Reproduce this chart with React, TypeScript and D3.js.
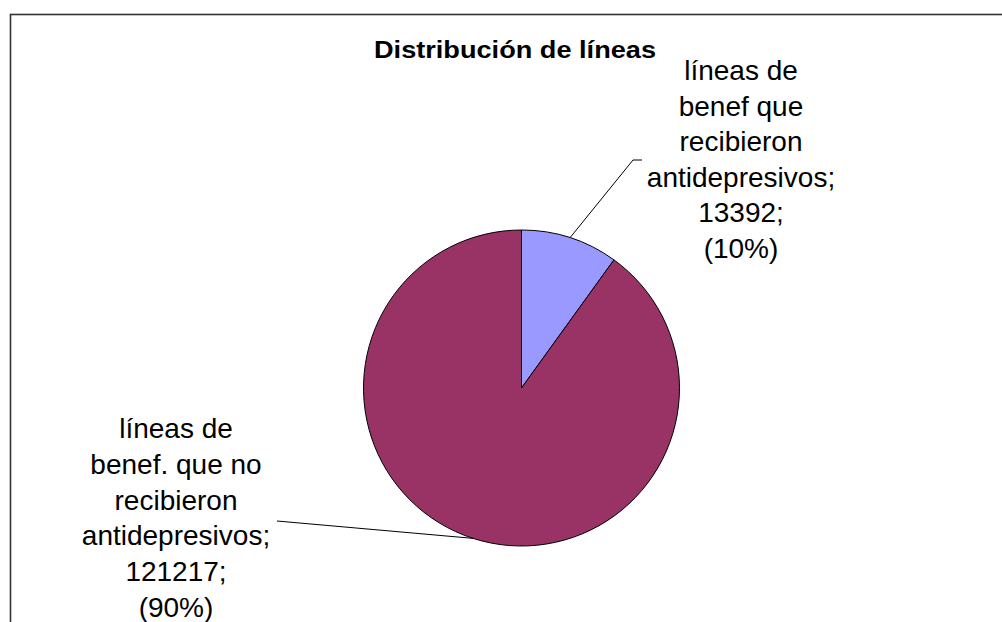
import React from "react";
import * as d3 from "d3";

const categories = [
  ["líneas de", "benef que", "recibieron", "antidepresivos;"],
  ["líneas de", "benef. que no", "recibieron", "antidepresivos;"],
];
const values = [13392, 121217];
const colors = ["#9999FF", "#993366"];
const title = "Distribución de líneas";

const W = 1002;
const H = 622;
const cx = 521.5;
const cy = 388;
const R = 158;
const FONT = "'Liberation Sans', Arial, Helvetica, sans-serif";

// label layout: anchor point where leader meets label, text center, first baseline
const labelLayout = [
  { elbow: [633, 160], end: [642, 160], tx: 741, ty: 80, lh: 35.5 },
  { elbow: null, end: [277, 521], tx: 176, ty: 438, lh: 35.8 },
];

export default function App() {
  const total = d3.sum(values);
  const pie = d3
    .pie<number>()
    .sort(null)
    .value((d) => d)
    .startAngle(0)
    .endAngle(2 * Math.PI);
  const arcs = pie(values);
  const arc = d3.arc<d3.PieArcDatum<number>>().innerRadius(0).outerRadius(R);
  const fmtPct = d3.format(".0%");

  return (
    <svg
      width={W}
      height={H}
      style={{ position: "absolute", left: 0, top: 0, background: "#fff" }}
    >
      <rect x={10.5} y={14.5} width={1100} height={800} fill="#fff" stroke="#333" strokeWidth={1.6} />
      <text
        x={374}
        y={58}
        fontFamily={FONT}
        fontWeight="bold"
        fontSize={23}
        textLength={282}
        lengthAdjust="spacingAndGlyphs"
        fill="#000"
      >
        {title}
      </text>
      <g transform={`translate(${cx},${cy})`}>
        {arcs.map((a, i) => (
          <path key={i} d={arc(a) || ""} fill={colors[i]} stroke="#000" strokeWidth={1} />
        ))}
      </g>
      {arcs.map((a, i) => {
        const mid = (a.startAngle + a.endAngle) / 2;
        const sx = cx + R * Math.sin(mid);
        const sy = cy - R * Math.cos(mid);
        const L = labelLayout[i];
        const pts: [number, number][] = [[sx, sy]];
        if (L.elbow) pts.push(L.elbow as [number, number]);
        pts.push(L.end as [number, number]);
        const line = d3.line()(pts) || "";
        const lines = [
          ...categories[i],
          `${values[i]};`,
          `(${fmtPct(values[i] / total)})`,
        ];
        return (
          <g key={i}>
            <path d={line} fill="none" stroke="#000" strokeWidth={1} />
            <text fontFamily={FONT} fontSize={28} textAnchor="middle" fill="#000">
              {lines.map((t, j) => (
                <tspan key={j} x={L.tx} y={L.ty + j * L.lh}>
                  {t}
                </tspan>
              ))}
            </text>
          </g>
        );
      })}
    </svg>
  );
}
